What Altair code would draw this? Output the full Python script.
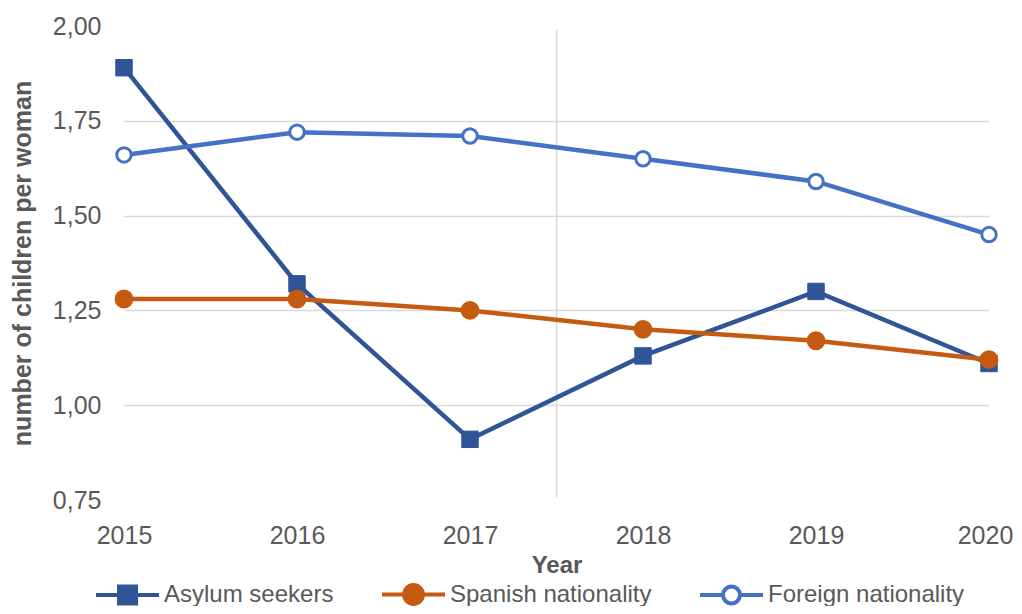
import altair as alt
import pandas as pd

# ---- data ----
years = [2015, 2016, 2017, 2018, 2019, 2020]
series_names = ["Asylum seekers", "Spanish nationality", "Foreign nationality"]
asylum = [1.89, 1.32, 0.91, 1.13, 1.30, 1.11]
spanish = [1.28, 1.28, 1.25, 1.20, 1.17, 1.12]
foreign = [1.66, 1.72, 1.71, 1.65, 1.59, 1.45]
y_ticks = [0.75, 1.00, 1.25, 1.50, 1.75, 2.00]
divider_year = [2017.5]
divider_top = [1.99]
divider_bottom = [0.755]

values = {"Asylum seekers": asylum, "Spanish nationality": spanish, "Foreign nationality": foreign}
rows = []
for name in series_names:
    for yr, v in zip(years, values[name]):
        rows.append({"year": yr, "value": v, "series": name})
df = pd.DataFrame(rows)
div_df = pd.DataFrame({"year": divider_year, "top": divider_top, "bottom": divider_bottom})

FONT = "Liberation Sans"
GREY = "#595959"
stroke_colors = ["#2F5597", "#C55A11", "#4472C4"]
fill_colors = ["#2F5597", "#C55A11", "#FFFFFF"]
legend_paths = [
    "M-1,0H-0.27M0.27,0H1M-0.27,-0.27H0.27V0.27H-0.27Z",
    "M-1,0H-0.3M0.3,0H1M-0.3,0A0.3,0.3,0,1,0,0.3,0A0.3,0.3,0,1,0,-0.3,0Z",
    "M-1,0H-0.27M0.27,0H1M-0.27,0A0.27,0.27,0,1,0,0.27,0A0.27,0.27,0,1,0,-0.27,0Z",
]

x_enc = alt.X(
    "year:Q",
    scale=alt.Scale(domain=[2015, 2020], nice=False, zero=False),
    axis=alt.Axis(
        values=years, format="d", title="Year", grid=False, domain=False, ticks=False,
        tickSize=0, labelPadding=23, labelFlush=False, labelOverlap=False, labelBound=False,
        labelOffset={"condition": {"test": "datum.value == 2020", "value": -4}, "value": 0},
        labelFont=FONT, labelFontSize=25, labelColor=GREY,
        titleFont=FONT, titleFontSize=24, titleFontWeight="bold", titleColor=GREY,
        titleY=65, titleBaseline="middle",
    ),
)
y_enc = alt.Y(
    "value:Q",
    scale=alt.Scale(domain=[0.75, 2.0], nice=False, zero=False),
    axis=alt.Axis(
        values=y_ticks, title="number of children per woman", domain=False, ticks=False,
        tickSize=0, labelPadding=23, labelFlush=False, labelOverlap=False,
        labelExpr="replace(format(datum.value, '.2f'), '.', ',')",
        labelFont=FONT, labelFontSize=25, labelColor=GREY,
        grid=True, gridColor="#D9D9D9", gridWidth=1.5,
        gridOpacity={"condition": {"test": "datum.value > 0.8 && datum.value < 1.9", "value": 1}, "value": 0},
        titleFont=FONT, titleFontSize=25, titleFontWeight="bold", titleColor=GREY,
        titleX=-102, titleY=237, titleAngle=270, titleAlign="center", titleBaseline="middle",
    ),
)

divider = alt.Chart(div_df).mark_rule(color="#D9D9D9", strokeWidth=1.5).encode(
    x=alt.X("year:Q", scale=alt.Scale(domain=[2015, 2020], nice=False, zero=False)),
    y=alt.Y("top:Q"),
    y2="bottom:Q",
)

layers = [divider]
for name, sc in zip(series_names, stroke_colors):
    layers.append(
        alt.Chart(df).transform_filter(alt.datum.series == name)
        .mark_line(color=sc, strokeWidth=4.5)
        .encode(x=x_enc, y=y_enc)
    )

point_styles = {
    "Asylum seekers": dict(shape="square", size=270, fill="#2F5597", stroke="#2F5597", strokeWidth=1),
    "Spanish nationality": dict(shape="circle", size=250, fill="#C55A11", stroke="#C55A11", strokeWidth=3),
    "Foreign nationality": dict(shape="circle", size=210, fill="#FFFFFF", stroke="#4472C4", strokeWidth=3),
}
for name in series_names:
    layers.append(
        alt.Chart(df).transform_filter(alt.datum.series == name)
        .mark_point(filled=True, opacity=1, **point_styles[name])
        .encode(x=x_enc, y=y_enc)
    )

leg = dict(
    title=None, orient="none", legendX=-30, legendY=535, direction="horizontal",
    symbolSize=3969, symbolStrokeWidth=4, labelFont=FONT, labelFontSize=24,
    labelColor=GREY, labelOffset=3, columnPadding=40, padding=0, labelLimit=400,
)
legend_layer = (
    alt.Chart(df).transform_filter("false")
    .mark_point(filled=True, opacity=1, strokeWidth=4)
    .encode(
        stroke=alt.Stroke("series:N", scale=alt.Scale(domain=series_names, range=stroke_colors), legend=alt.Legend(**leg)),
        fill=alt.Fill("series:N", scale=alt.Scale(domain=series_names, range=fill_colors), legend=alt.Legend(**leg)),
        shape=alt.Shape("series:N", scale=alt.Scale(domain=series_names, range=legend_paths), legend=alt.Legend(**leg)),
    )
)
layers.append(legend_layer)

chart = (
    alt.layer(*layers)
    .properties(
        width=865, height=474, autosize="none",
        padding={"left": 116, "top": 18, "right": 25, "bottom": 106},
        background="white",
    )
    .configure_view(stroke=None)
)

chart.save("out.html", embed_options={"renderer": "svg", "actions": False})
